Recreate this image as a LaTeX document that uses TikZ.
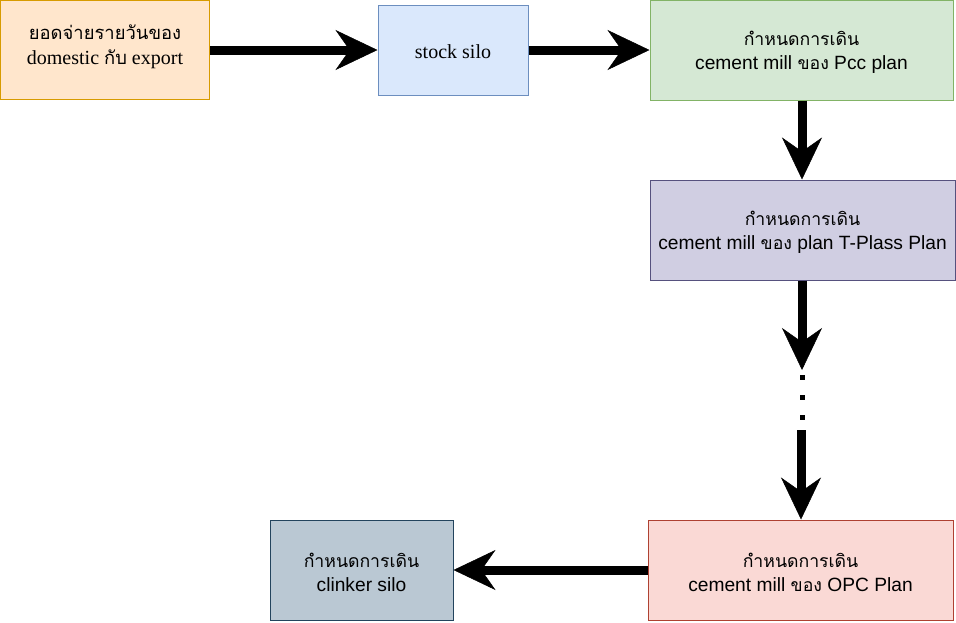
\documentclass[tikz,border=0pt]{standalone}
\usepackage{fontspec}
\setmainfont{Liberation Serif}
\setsansfont{Liberation Sans}
\newfontfamily\thaifont[Script=Thai,Scale=0.92]{Loma}
\usetikzlibrary{arrows.meta}
\newcommand\thx[1]{{\thaifont #1}}
\definecolor{aFill}{HTML}{FFE6CC}\definecolor{aLine}{HTML}{D79B00}
\definecolor{bFill}{HTML}{DAE8FC}\definecolor{bLine}{HTML}{6C8EBF}
\definecolor{cFill}{HTML}{D5E8D4}\definecolor{cLine}{HTML}{82B366}
\definecolor{dFill}{HTML}{D0CEE2}\definecolor{dLine}{HTML}{56517E}
\definecolor{eFill}{HTML}{FAD9D5}\definecolor{eLine}{HTML}{AE4132}
\definecolor{fFill}{HTML}{BAC8D3}\definecolor{fLine}{HTML}{23445D}
\begin{document}
\begin{tikzpicture}[x=1pt,y=-1pt,
  box/.style={draw, line width=1pt, inner sep=0pt},
  seriftext/.style={inner sep=0pt, align=center, font=\fontsize{20}{25}\selectfont\rmfamily},
  sanstext/.style={inner sep=0pt, align=center, font=\fontsize{19.2}{24}\selectfont\sffamily},
  flow/.style={line width=9pt, -{Stealth[length=42pt,width=40pt,inset=14pt,line width=0.5pt]}},
  dots/.style={line width=5pt, dash pattern=on 5pt off 15pt}]
\useasboundingbox (0,0) rectangle (956,622);
\fill[white] (0,0) rectangle (956,622);
\node[box, fill=aFill, draw=aLine, minimum width=209pt, minimum height=99pt] (A) at (105,50) {};
\node[seriftext] (At) at ([yshift=3.5pt]A.center) {\thx{ยอดจ่ายรายวันของ}\\domestic \thx{กับ} export};
\node[box, fill=bFill, draw=bLine, minimum width=150pt, minimum height=90pt] (B) at (453,50) {};
\node[seriftext] (Bt) at ([yshift=-2pt]B.center) {stock silo};
\node[box, fill=cFill, draw=cLine, minimum width=303pt, minimum height=100pt] (C) at (801.5,50) {};
\node[sanstext] (Ct) at ([yshift=-2.5pt]C.center) {\thx{กำหนดการเดิน}\\cement mill \thx{ของ} Pcc plan};
\node[box, fill=dFill, draw=dLine, minimum width=305pt, minimum height=100pt] (D) at (802.5,230) {};
\node[sanstext] (Dt) at ([yshift=-2.5pt]D.center) {\thx{กำหนดการเดิน}\\cement mill \thx{ของ} plan T-Plass Plan};
\node[box, fill=eFill, draw=eLine, minimum width=305pt, minimum height=100pt] (E) at (800.5,570) {};
\node[sanstext] (Et) at ([yshift=-2pt]E.center) {\thx{กำหนดการเดิน}\\cement mill \thx{ของ} OPC Plan};
\node[box, fill=fFill, draw=fLine, minimum width=183pt, minimum height=100pt] (F) at (361.5,570) {};
\node[sanstext] (Ft) at ([yshift=-2pt]F.center) {\thx{กำหนดการเดิน}\\clinker silo};
\coordinate (d1) at (802,370);
\coordinate (d2) at (802,375);
\coordinate (d3) at (802,420);
\coordinate (d4) at (801,430);
\draw[flow] (A.east) -- (B.west);
\draw[flow] (B.east) -- (C.west);
\draw[flow] (C.south -| d1) -- (D.north -| d1);
\draw[flow] (D.south -| d1) -- (d1);
\draw[dots] (d2) -- (d3);
\draw[flow] (d4) -- (E.north -| d4);
\draw[flow] (E.west) -- (F.east);
\end{tikzpicture}
\end{document}
